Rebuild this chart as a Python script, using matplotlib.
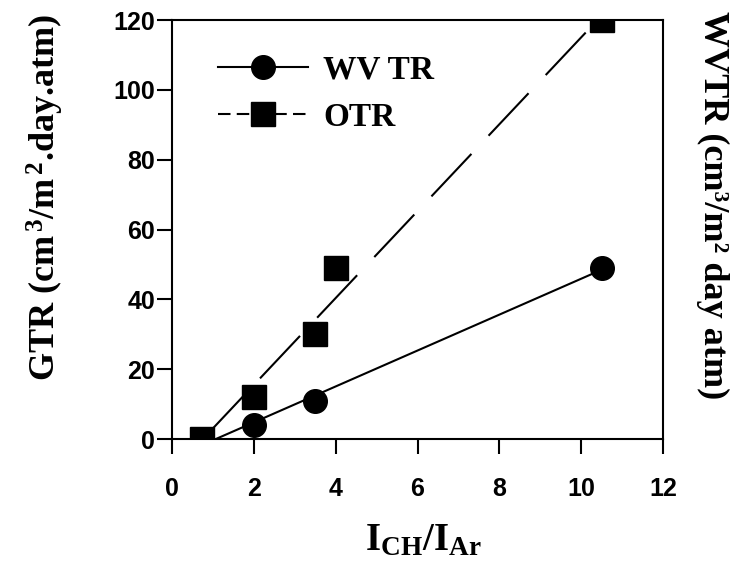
import numpy as np
import matplotlib
matplotlib.use('Agg')
import matplotlib.pyplot as plt

# data
ratio = [0.73, 2.0, 3.5, 4.0, 10.5]          # I_CH / I_Ar
otr = [0.0, 12.0, 30.0, 49.0, 120.0]
wv_ratio = [0.73, 2.0, 3.5, 10.5]
wvtr = [0.0, 4.0, 11.0, 49.0]

x_ticks = [0, 2, 4, 6, 8, 10, 12]
y_ticks = [0, 20, 40, 60, 80, 100, 120]

plt.rcParams['mathtext.fontset'] = 'custom'
plt.rcParams['mathtext.rm'] = 'Liberation Serif:bold'
plt.rcParams['mathtext.it'] = 'Liberation Serif:bold'
plt.rcParams['mathtext.bf'] = 'Liberation Serif:bold'

fig = plt.figure(figsize=(7.33, 5.67), dpi=100)
ax = fig.add_axes([0.2347, 0.2257, 0.6698, 0.739])


def fit_line(x, y):
    # linear regression drawn from the x-intercept to the last point
    k, b = np.polyfit(x, y, 1)
    xs = np.array([-b / k, max(x)])
    return xs, k * xs + b


xs, ys = fit_line(wv_ratio, wvtr)
ax.plot(xs, ys, color='black', lw=1.5, zorder=2)
xs, ys = fit_line(ratio, otr)
ax.plot(xs, ys, color='black', lw=1.5, dashes=(28, 12), zorder=2)

ax.plot(wv_ratio, wvtr, 'o', color='black', ms=17, zorder=3)
ax.plot(ratio, otr, 's', color='black', ms=17, zorder=4)

# legend handles
h1, = ax.plot([], [], '-o', color='black', lw=1.5, ms=17)
h2, = ax.plot([], [], 's', ls=(0, (6, 3)), color='black', lw=1.5, ms=17)
ax.legend([h1, h2], ['WV TR', 'OTR'], loc='upper left',
          bbox_to_anchor=(0.094, 0.918), frameon=False, borderpad=0,
          borderaxespad=0, handlelength=2.7, handletextpad=0.45,
          labelspacing=0.5,
          prop={'family': 'Liberation Serif', 'weight': 'bold', 'size': 24})

ax.set_xlim(0, 12)
ax.set_ylim(0, 120)
ax.set_xticks(x_ticks)
ax.set_yticks(y_ticks)
for s in ax.spines.values():
    s.set_linewidth(1.5)
ax.tick_params(axis='both', direction='out', length=11, width=1.5,
               labelsize=18)
ax.tick_params(axis='y', pad=1)
ax.tick_params(axis='x', pad=16)
for lab in ax.get_xticklabels() + ax.get_yticklabels():
    lab.set_fontfamily('Liberation Sans')
    lab.set_fontweight('bold')

fig.text(0.062, 0.652, r'GTR (cm$^{\,3}$/m$^{\,2}$.day.atm)', rotation=90,
         ha='center', va='center', family='Liberation Serif',
         weight='bold', fontsize=26)
fig.text(0.972, 0.638, 'WVTR (cm\u00b3/m\u00b2 day atm)', rotation=270,
         ha='center', va='center', family='Liberation Serif',
         weight='bold', fontsize=26)
fig.text(0.577, 0.047, r'I$_{\rm CH}$/I$_{\rm Ar}$', ha='center',
         va='center', family='Liberation Serif', weight='bold',
         fontsize=28)

fig.savefig('out.png', dpi=100)
